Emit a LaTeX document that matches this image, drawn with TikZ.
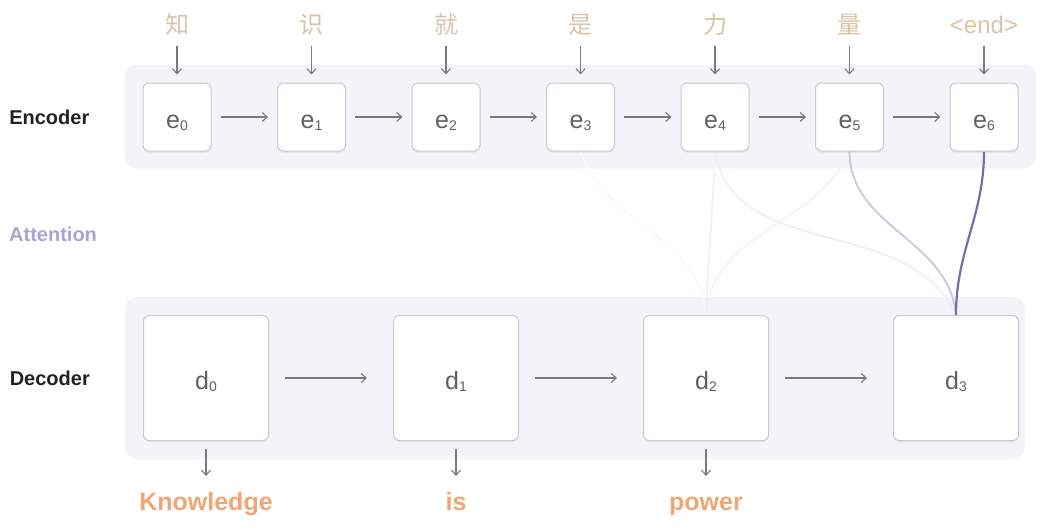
\documentclass[tikz,border=0pt]{standalone}
\usepackage{fontspec}
\setmainfont{Liberation Sans}
\newfontfamily\cjkfont{Noto Sans CJK SC}
\usetikzlibrary{arrows.meta,positioning,shadows,backgrounds}
\definecolor{panelcolor}{HTML}{F4F4F8}
\definecolor{boxcolor}{HTML}{C9C9CE}
\definecolor{arrowcolor}{HTML}{7A7A7E}
\definecolor{tokencolor}{HTML}{DCC3A6}
\definecolor{outputcolor}{HTML}{F0A674}
\definecolor{labelcolor}{HTML}{222222}
\definecolor{attncolor}{HTML}{A8A4D4}
\definecolor{weightcolor}{HTML}{726EB0}
\newcommand{\idx}[2]{#1\raisebox{-2pt}{\fontsize{14}{14}\selectfont #2}}
\tikzset{
    encstate/.style={
        shape=rectangle,
        draw=boxcolor,
        fill=white,
        line width=1pt,
        rounded corners=6pt,
        minimum width=68pt,
        minimum height=68pt,
        inner sep=0pt,
        text height=22pt,
        text depth=0pt,
        text=black!62,
        font=\fontsize{25}{25}\selectfont,
        drop shadow={shadow xshift=0pt, shadow yshift=-1.5pt, opacity=0.12}
    },
    decstate/.style={
        encstate,
        minimum width=125pt,
        minimum height=125pt
    },
    token/.style={
        inner sep=0pt,
        text height=20pt,
        text depth=3pt,
        text=tokencolor,
        font=\fontsize{24}{24}\selectfont
    },
    output/.style={
        inner sep=0pt,
        text height=19pt,
        text depth=6pt,
        text=outputcolor,
        font=\fontsize{25}{25}\selectfont\bfseries
    },
    rowlabel/.style={
        inner sep=0pt,
        text=labelcolor,
        font=\fontsize{20}{20}\selectfont\bfseries
    },
    panel/.style={
        fill=panelcolor,
        rounded corners=12pt
    },
    transition/.style={
        ->,
        >={Straight Barb[length=5pt,width=9pt]},
        draw=arrowcolor,
        line width=1.1pt
    },
    attention/.style={
        draw=weightcolor!#1,
        line width=1.8pt
    }
}

\begin{document}
\begin{tikzpicture}[x=1pt,y=1pt]
    \useasboundingbox (0,0) rectangle (1049,-531);

    \node[encstate] (e0) at (177,-117) {\idx{e}{0}};
    \node[encstate, right=65.5pt of e0] (e1) {\idx{e}{1}};
    \node[encstate, right=65.5pt of e1] (e2) {\idx{e}{2}};
    \node[encstate, right=65.5pt of e2] (e3) {\idx{e}{3}};
    \node[encstate, right=65.5pt of e3] (e4) {\idx{e}{4}};
    \node[encstate, right=65.5pt of e4] (e5) {\idx{e}{5}};
    \node[encstate, right=65.5pt of e5] (e6) {\idx{e}{6}};

    \node[token, above=46pt of e0] (t0) {\cjkfont 知};
    \node[token, above=46pt of e1] (t1) {\cjkfont 识};
    \node[token, above=46pt of e2] (t2) {\cjkfont 就};
    \node[token, above=46pt of e3] (t3) {\cjkfont 是};
    \node[token, above=46pt of e4] (t4) {\cjkfont 力};
    \node[token, above=46pt of e5] (t5) {\cjkfont 量};
    \node[token, above=46pt of e6] (t6) {<end>};

    \node[decstate] (d0) at (206,-378) {\idx{d}{0}};
    \node[decstate, right=124pt of d0] (d1) {\idx{d}{1}};
    \node[decstate, right=124pt of d1] (d2) {\idx{d}{2}};
    \node[decstate, right=124pt of d2] (d3) {\idx{d}{3}};

    \node[output, below=50pt of d0] (o0) {Knowledge};
    \node[output, below=50pt of d1] (o1) {is};
    \node[output, below=50pt of d2] (o2) {power};

    \node[rowlabel, left=53pt of e0] (enclabel) {Encoder};
    \node[rowlabel, left=53pt of d0] (declabel) {Decoder};
    \node[rowlabel, anchor=west, text=attncolor] (attnlabel) at (9,-234) {Attention};

    \begin{scope}[on background layer] % panels
    	\fill[panel]
    	([shift={(-18pt,18pt)}]e0.north west)
    	rectangle
    	([shift={(18pt,-17pt)}]e6.south east);

    	\fill[panel]
    	([shift={(-18pt,18pt)}]d0.north west)
    	rectangle
    	([shift={(6pt,-18pt)}]d3.south east);
    \end{scope}

    \begin{scope}[on background layer] % attention
    	\draw[attention=4]
    	(e3.south)
    	to[out=-70, in=95]
    	(d2.north);

    	\draw[attention=10]
    	(e4.south)
    	to[out=-92, in=88]
    	(d2.north);

    	\draw[attention=9]
    	(e5.south)
    	to[out=-115, in=85]
    	(d2.north);

    	\draw[attention=12]
    	(e4.south)
    	to[out=-80, in=115]
    	(d3.north);

    	\draw[attention=38]
    	(e5.south)
    	to[out=-90, in=95]
    	(d3.north);

    	\draw[attention=100, line width=2.2pt]
    	(e6.south)
    	to[out=-90, in=90]
    	(d3.north);
    \end{scope}

    \begin{scope} % inputs
    	\draw[transition, shorten <=9pt, shorten >=8pt] (t0) to (e0);
    	\draw[transition, shorten <=9pt, shorten >=8pt] (t1) to (e1);
    	\draw[transition, shorten <=9pt, shorten >=8pt] (t2) to (e2);
    	\draw[transition, shorten <=9pt, shorten >=8pt] (t3) to (e3);
    	\draw[transition, shorten <=9pt, shorten >=8pt] (t4) to (e4);
    	\draw[transition, shorten <=9pt, shorten >=8pt] (t5) to (e5);
    	\draw[transition, shorten <=9pt, shorten >=8pt] (t6) to (e6);
    \end{scope}

    \begin{scope} % encoder steps
    	\draw[transition, shorten <=9pt, shorten >=9pt] (e0) to (e1);
    	\draw[transition, shorten <=9pt, shorten >=9pt] (e1) to (e2);
    	\draw[transition, shorten <=9pt, shorten >=9pt] (e2) to (e3);
    	\draw[transition, shorten <=9pt, shorten >=9pt] (e3) to (e4);
    	\draw[transition, shorten <=9pt, shorten >=9pt] (e4) to (e5);
    	\draw[transition, shorten <=9pt, shorten >=9pt] (e5) to (e6);
    \end{scope}

    \begin{scope} % decoder steps
    	\draw[transition, shorten <=16pt, shorten >=26pt] (d0) to (d1);
    	\draw[transition, shorten <=16pt, shorten >=26pt] (d1) to (d2);
    	\draw[transition, shorten <=16pt, shorten >=26pt] (d2) to (d3);
    \end{scope}

    \begin{scope} % outputs
    	\draw[transition, shorten <=8pt, shorten >=15pt] (d0) to (o0);
    	\draw[transition, shorten <=8pt, shorten >=15pt] (d1) to (o1);
    	\draw[transition, shorten <=8pt, shorten >=15pt] (d2) to (o2);
    \end{scope}
\end{tikzpicture}
\end{document}
